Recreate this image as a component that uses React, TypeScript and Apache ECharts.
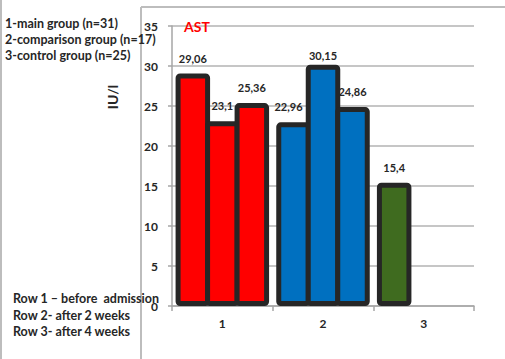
import React, { useEffect, useRef } from "react";
import * as echarts from "echarts";

// Groups on the category axis
const categories = ["1", "2", "3"];
// AST values (IU/l) per measurement row; group 3 was measured once
const row1 = [29.06, 22.96, 15.4];
const row2 = [23.1, 30.15, null];
const row3 = [25.36, 24.86, null];
const rowNames = ["Row 1", "Row 2", "Row 3"];
// Fill colour per group
const groupColors = ["#ff0000", "#0070c0", "#3f6b1f"];
// Y axis scale
const yMin = 0;
const yMax = 35;
const yStep = 5;

const legendLines = [
  "1-main group (n=31)",
  "2-comparison group (n=17)",
  "3-control group (n=25)",
];
const rowLines = [
  "Row 1 \u2013 before  admission",
  "Row 2- after 2 weeks",
  "Row 3- after 4 weeks",
];

const FONT = "Lato, 'Noto Sans', sans-serif";
const TEXT = "#262626";
const GRID = "#b3b3b3";

// Small nudges for labels that would collide
const labelOffsets: Record<string, [number, number]> = {
  "1-0": [-5, 0],
  "1-1": [0, 6],
  "2-1": [8, 0],
};

// Bars share their dark borders: each bar is 34.5px wide and neighbours overlap by one border
const BAR_W = 34.5;
const BORDER = 5;

function makeSeries(values: (number | null)[], si: number) {
  return {
    name: rowNames[si],
    type: "bar",
    barWidth: BAR_W,
    barGap: `${(-BORDER / BAR_W) * 100}%`,
    data: values.map((v, ci) => ({
      value: v,
      itemStyle: {
        color: groupColors[ci],
        borderColor: "#262626",
        borderWidth: BORDER,
        borderRadius: 2,
      },
      label: {
        offset: labelOffsets[`${ci}-${si}`] || [0, 0],
      },
    })),
    label: {
      show: true,
      position: "top",
      distance: 10,
      color: TEXT,
      fontFamily: FONT,
      fontWeight: "bold",
      fontSize: 11,
      formatter: (p: any) => String(p.value).replace(".", ","),
    },
  };
}

export default function App() {
  const ref = useRef<HTMLDivElement>(null);

  useEffect(() => {
    if (!ref.current) return;
    const chart = echarts.init(ref.current, null, { renderer: "svg" });

    const graphics: any[] = [
      // frame lines
      { type: "line", shape: { x1: 1, y1: 0, x2: 1, y2: 359 }, style: { stroke: "#bdbdbd", lineWidth: 2 } },
      { type: "line", shape: { x1: 141, y1: 7, x2: 141, y2: 359 }, style: { stroke: "#bdbdbd", lineWidth: 2 } },
      { type: "line", shape: { x1: 141, y1: 7, x2: 505, y2: 7 }, style: { stroke: "#bdbdbd", lineWidth: 2 } },
      // unit label
      {
        type: "text",
        x: 112,
        y: 97,
        rotation: Math.PI / 2,
        style: {
          text: "IU/l",
          fill: TEXT,
          font: `bold 14px ${FONT}`,
          align: "center",
          verticalAlign: "middle",
        },
      },
    ];
    legendLines.forEach((t, i) => {
      graphics.push({
        type: "text",
        x: 5,
        y: 23 + i * 16,
        z: 10,
        style: { text: t, fill: TEXT, font: `bold 12.5px ${FONT}`, verticalAlign: "middle" },
      });
    });
    rowLines.forEach((t, i) => {
      graphics.push({
        type: "text",
        x: 13,
        y: 298.5 + i * 16.7,
        z: 10,
        style: { text: t, fill: TEXT, font: `bold 12.5px ${FONT}`, verticalAlign: "middle" },
      });
    });

    chart.setOption({
      animation: false,
      backgroundColor: "#ffffff",
      title: {
        text: "AST",
        left: 179,
        top: 14,
        textStyle: { color: "#ff0000", fontFamily: FONT, fontWeight: "bold", fontSize: 14 },
      },
      grid: { left: 172, top: 26, right: 31, bottom: 53, containLabel: false },
      xAxis: {
        type: "category",
        data: categories,
        axisLine: { show: true, lineStyle: { color: "#a6a6a6", width: 1.5 } },
        axisTick: { show: true, alignWithLabel: false, length: 5, lineStyle: { color: "#a6a6a6", width: 1.5 } },
        axisLabel: { color: TEXT, fontFamily: FONT, fontWeight: "bold", fontSize: 12, margin: 11 },
      },
      yAxis: {
        type: "value",
        min: yMin,
        max: yMax,
        interval: yStep,
        axisLine: { show: true, lineStyle: { color: "#a6a6a6", width: 1.5 } },
        axisTick: { show: true, length: 4, lineStyle: { color: "#a6a6a6", width: 1.5 } },
        axisLabel: { color: TEXT, fontFamily: FONT, fontWeight: "bold", fontSize: 12, margin: 14 },
        splitLine: { show: true, lineStyle: { color: GRID, width: 1.5 } },
      },
      series: [makeSeries(row1, 0), makeSeries(row2, 1), makeSeries(row3, 2)],
      graphic: graphics,
    });

    return () => chart.dispose();
  }, []);

  return (
    <div
      ref={ref}
      style={{ position: "fixed", left: 0, top: 0, width: 505, height: 359 }}
    />
  );
}
